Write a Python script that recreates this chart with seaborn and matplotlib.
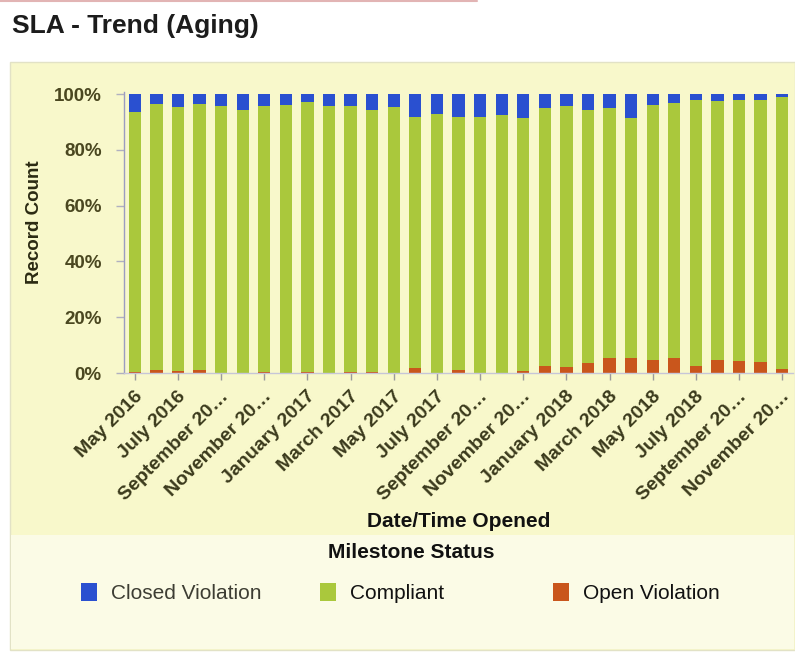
import matplotlib
matplotlib.use("Agg")
import matplotlib.pyplot as plt
from matplotlib.patches import Rectangle, Patch
from matplotlib.lines import Line2D
import seaborn as sns
import pandas as pd
import numpy as np

# ---------------- data ----------------
months = ["May 2016", "June 2016", "July 2016", "August 2016", "September 2016",
          "October 2016", "November 2016", "December 2016", "January 2017",
          "February 2017", "March 2017", "April 2017", "May 2017", "June 2017",
          "July 2017", "August 2017", "September 2017", "October 2017",
          "November 2017", "December 2017", "January 2018", "February 2018",
          "March 2018", "April 2018", "May 2018", "June 2018", "July 2018",
          "August 2018", "September 2018", "October 2018", "November 2018"]
closed_violation = [6.5, 3.6, 4.5, 3.6, 4.2, 5.8, 4.2, 4.0, 2.8, 4.2, 4.2,
                    5.7, 4.6, 8.0, 7.0, 8.2, 8.0, 7.5, 8.5, 4.8, 4.4, 5.6,
                    5.0, 8.7, 3.9, 3.0, 2.2, 2.4, 2.2, 2.2, 1.0]
open_violation = [0.3, 1.2, 0.8, 1.2, 0.0, 0.0, 0.2, 0.0, 0.3, 0.0, 0.3,
                  0.5, 0.0, 1.8, 0.0, 1.0, 0.0, 0.0, 0.7, 2.4, 2.0, 3.6,
                  5.4, 5.4, 4.5, 5.4, 2.4, 4.8, 4.2, 4.0, 1.5]
compliant = [100 - c - o for c, o in zip(closed_violation, open_violation)]
tick_labels = ["May 2016", "July 2016", "September 20\u2026", "November 20\u2026",
               "January 2017", "March 2017", "May 2017", "July 2017",
               "September 20\u2026", "November 20\u2026", "January 2018",
               "March 2018", "May 2018", "July 2018", "September 20\u2026",
               "November 20\u2026"]
series_names = ["Closed Violation", "Compliant", "Open Violation"]
series_colors = ["#2a50d0", "#aac83c", "#c9561c"]

df = pd.DataFrame({"month": months, "closed": closed_violation,
                   "compliant": compliant, "open": open_violation})
df["top_closed"] = df["closed"] + df["compliant"] + df["open"]
df["top_compliant"] = df["compliant"] + df["open"]

# ---------------- style ----------------
sns.set_style("white")
plt.rcParams["font.family"] = ["Liberation Sans", "DejaVu Sans"]

W, H = 795, 656
fig = plt.figure(figsize=(W / 100, H / 100), dpi=100)
fig.patch.set_facecolor("white")

def fx(px):
    return px / W

def fy(py):
    return 1 - py / H

# panel backgrounds
fig.patches.append(Rectangle((fx(10), fy(650)), fx(785), (650 - 62) / H,
                             transform=fig.transFigure, facecolor="#f8f8cb",
                             edgecolor="#e2e2c6", lw=1.0, zorder=-10))
fig.patches.append(Rectangle((fx(11), fy(649)), fx(783), (649 - 535) / H,
                             transform=fig.transFigure, facecolor="#fbfbe6",
                             edgecolor="none", zorder=-9))
fig.add_artist(Line2D([0, 0.6], [fy(1), fy(1)], transform=fig.transFigure,
                      color="#e2b4b4", lw=1.5))

ax = fig.add_axes([fx(124), fy(373), (793 - 124) / W, (373 - 92) / H])
ax.set_facecolor("none")
ax.set_zorder(1)

bw = 0.57
sns.barplot(data=df, x="month", y="top_closed", color=series_colors[0],
            width=bw, ax=ax, saturation=1, edgecolor="none")
sns.barplot(data=df, x="month", y="top_compliant", color=series_colors[1],
            width=bw, ax=ax, saturation=1, edgecolor="none")
sns.barplot(data=df, x="month", y="open", color=series_colors[2],
            width=bw, ax=ax, saturation=1, edgecolor="none")

ax.set_xlim(-0.5, len(months) - 0.5)
ax.set_ylim(0, 100.8)
ax.set_yticks([0, 20, 40, 60, 80, 100])
ax.set_yticklabels([f"{v}%" for v in [0, 20, 40, 60, 80, 100]],
                   fontsize=13.5, fontweight="bold", color="#4a4720")
ax.set_xticks(list(range(0, len(months), 2)))
ax.set_xticklabels(tick_labels, fontsize=14, fontweight="bold",
                   color="#3b3a1c", rotation=45, ha="right", va="center",
                   rotation_mode="anchor")
ax.tick_params(axis="x", length=5, width=1, color="#9a9a9a", pad=10, bottom=True)
ax.tick_params(axis="y", length=6, width=1, color="#b0b0c0", pad=10, left=True)
for lbl in ax.get_xticklabels():
    lbl.set_x(lbl.get_position()[0])
offset = matplotlib.transforms.ScaledTranslation(5 / 100, 0, fig.dpi_scale_trans)
for lbl in ax.get_xticklabels():
    lbl.set_transform(lbl.get_transform() + offset)

for s in ["top", "right"]:
    ax.spines[s].set_visible(False)
ax.spines["left"].set_color("#9c9cc0")
ax.spines["left"].set_linewidth(1.0)
ax.spines["bottom"].set_color("#c6c6d8")
ax.spines["bottom"].set_linewidth(1.0)

ax.set_ylabel("Record Count", fontsize=13.5, fontweight="bold", color="#2b2a12")
ax.yaxis.set_label_coords((43 - 124) / (793 - 124), (373 - 222) / (373 - 92))
ax.set_xlabel("Date/Time Opened", fontsize=15, fontweight="bold", color="#111111")
ax.xaxis.set_label_coords(0.5, (373 - 512) / (373 - 92))

# title
fig.text(fx(12), fy(26), "SLA - Trend (Aging)", fontsize=19, fontweight="bold",
         color="#1c1c1c", ha="left", va="center")

# legend
fig.text(fx(411), fy(552), "Milestone Status", fontsize=15, fontweight="bold",
         color="#111111", ha="center", va="center")
legend_x = [81, 320, 553]
text_colors = ["#3d3d33", "#111111", "#111111"]
for name, col, lx, tc in zip(series_names, series_colors, legend_x, text_colors):
    leg = fig.legend(handles=[Patch(facecolor=col, edgecolor="none", label=name)],
                     loc="center left", bbox_to_anchor=(fx(lx), fy(593)),
                     frameon=False, fontsize=15, handlelength=0.75,
                     handleheight=0.95, handletextpad=0.7, borderpad=0,
                     borderaxespad=0)
    for t in leg.get_texts():
        t.set_color(tc)

fig.savefig("out.png", dpi=100)
